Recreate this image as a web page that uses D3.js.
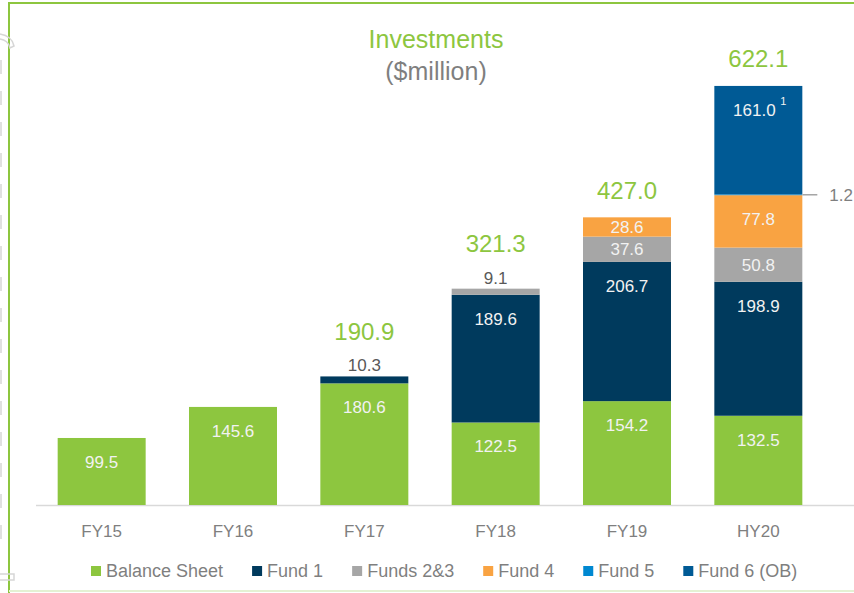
<!DOCTYPE html>
<html lang="en">
<head>
  <meta charset="UTF-8">
  <title>Investments</title>
  <script src="https://d3js.org/d3.v7.min.js"></script>
  <style>
    body { margin: 0; background: #fff; }
    svg { display: block; font-family: "Liberation Sans", Arial, sans-serif; }
  </style>
</head>
<body>
  <div id="chart"></div>
  <script>
    // data
    const periods = ["FY15", "FY16", "FY17", "FY18", "FY19", "HY20"];
    const seriesNames = ["Balance Sheet", "Fund 1", "Funds 2&3", "Fund 4", "Fund 5", "Fund 6 (OB)"];
    const seriesColors = ["#8dc63f", "#003a5d", "#a6a6a6", "#f9a342", "#0088d1", "#005a95"];
    const balanceSheet = [99.5, 145.6, 180.6, 122.5, 154.2, 132.5];
    const fund1 = [0, 0, 10.3, 189.6, 206.7, 198.9];
    const funds23 = [0, 0, 0, 9.1, 37.6, 50.8];
    const fund4 = [0, 0, 0, 0, 28.6, 77.8];
    const fund5 = [0, 0, 0, 0, 0, 1.2];
    const fund6 = [0, 0, 0, 0, 0, 161.0];
    const totals = [null, null, 190.9, 321.3, 427.0, 622.1];

    const width = 854, height = 593;
    const green = "#8dc63f", grey = "#7f7f7f";

    const svg = d3.select("#chart").append("svg")
      .attr("width", width)
      .attr("height", height);

    // frame
    svg.append("path")
      .attr("d", `M9,${height} V3 H${width}`)
      .attr("fill", "none")
      .attr("stroke", green)
      .attr("stroke-width", 2);
    svg.append("line")
      .attr("x1", 9).attr("x2", width)
      .attr("y1", 591).attr("y2", 591)
      .attr("stroke", "#e4f1d3").attr("stroke-width", 2);

    // faint decoration on the left edge
    const deco = svg.append("g").attr("stroke", "#d6d6d6").attr("fill", "none").attr("stroke-width", 1.5);
    deco.append("path").attr("d", "M0,34 Q12,36 14,46 L10,48 Q8,40 0,39");
    d3.range(60, 540, 31).forEach(y => {
      deco.append("line").attr("x1", 1).attr("x2", 1).attr("y1", y).attr("y2", y + 14);
    });
    deco.append("rect").attr("x", -2).attr("y", 574).attr("width", 16).attr("height", 6);

    // title
    svg.append("text")
      .attr("x", 436).attr("y", 48)
      .attr("text-anchor", "middle")
      .attr("fill", green)
      .style("font-size", "25px")
      .text("Investments");
    svg.append("text")
      .attr("x", 436).attr("y", 80)
      .attr("text-anchor", "middle")
      .attr("fill", grey)
      .style("font-size", "25px")
      .text("($million)");

    const x = d3.scaleBand()
      .domain(periods)
      .range([36, 824])
      .paddingInner(0.33)
      .paddingOuter(0.165);

    const y = d3.scaleLinear()
      .domain([0, 622.1])
      .range([505, 86]);

    const table = periods.map((p, i) => ({
      period: p,
      "Balance Sheet": balanceSheet[i],
      "Fund 1": fund1[i],
      "Funds 2&3": funds23[i],
      "Fund 4": fund4[i],
      "Fund 5": fund5[i],
      "Fund 6 (OB)": fund6[i]
    }));

    const stacked = d3.stack().keys(seriesNames)(table);

    // axis baseline
    svg.append("line")
      .attr("x1", 36).attr("x2", width)
      .attr("y1", y(0) + 0.5).attr("y2", y(0) + 0.5)
      .attr("stroke", "#d9d9d9").attr("stroke-width", 1.5);

    const layers = svg.selectAll(".layer")
      .data(stacked)
      .enter().append("g")
      .attr("class", "layer")
      .attr("fill", (d, i) => seriesColors[i]);

    layers.selectAll("rect")
      .data(d => d.filter(s => s[1] - s[0] > 0))
      .enter().append("rect")
      .attr("x", d => x(d.data.period))
      .attr("y", d => y(d[1]))
      .attr("width", x.bandwidth())
      .attr("height", d => y(d[0]) - y(d[1]));

    // segment labels
    const labelG = svg.append("g").style("font-size", "17px");
    const topLabelY = {};
    stacked.forEach(layer => {
      layer.forEach(seg => {
        const v = seg[1] - seg[0];
        if (v <= 0) return;
        const cx = x(seg.data.period) + x.bandwidth() / 2;
        const top = y(seg[1]), bot = y(seg[0]);
        const txt = v.toFixed(1);
        if (bot - top >= 18) {
          const cy = Math.min(top + 24, (top + bot) / 2);
          const t = labelG.append("text")
            .attr("x", cx).attr("y", cy)
            .attr("dy", "0.35em")
            .attr("text-anchor", "middle")
            .attr("fill", "#f2f2f2")
            .text(txt);
          if (layer.key === "Fund 6 (OB)") {
            t.attr("x", cx - 4);
            labelG.append("text")
              .attr("x", cx + 22).attr("y", cy - 5)
              .attr("fill", "#f2f2f2")
              .style("font-size", "11px")
              .text("1");
          }
        } else if (layer.key === "Fund 5") {
          const xr = x(seg.data.period) + x.bandwidth();
          const ym = (top + bot) / 2;
          labelG.append("line")
            .attr("x1", xr).attr("x2", xr + 15)
            .attr("y1", ym).attr("y2", ym)
            .attr("stroke", "#a6a6a6").attr("stroke-width", 1.5);
          labelG.append("text")
            .attr("x", xr + 27).attr("y", ym)
            .attr("dy", "0.35em")
            .attr("fill", grey)
            .text(txt);
        } else {
          const cy = top - 11;
          topLabelY[seg.data.period] = cy;
          labelG.append("text")
            .attr("x", cx).attr("y", cy)
            .attr("dy", "0.35em")
            .attr("text-anchor", "middle")
            .attr("fill", "#595959")
            .text(txt);
        }
      });
    });

    // totals
    periods.forEach((p, i) => {
      if (totals[i] === null) return;
      const stackTop = y(d3.sum(stacked, l => l[i][1] - l[i][0]));
      const cy = topLabelY[p] !== undefined ? topLabelY[p] - 34 : stackTop - 27;
      svg.append("text")
        .attr("x", x(p) + x.bandwidth() / 2)
        .attr("y", cy)
        .attr("dy", "0.35em")
        .attr("text-anchor", "middle")
        .attr("fill", green)
        .style("font-size", "24px")
        .text(totals[i].toFixed(1));
    });

    // x axis labels
    svg.selectAll(".xlab")
      .data(periods)
      .enter().append("text")
      .attr("class", "xlab")
      .attr("x", d => x(d) + x.bandwidth() / 2)
      .attr("y", 531)
      .attr("dy", "0.35em")
      .attr("text-anchor", "middle")
      .attr("fill", grey)
      .style("font-size", "17px")
      .text(d => d);

    // legend
    const legend = svg.append("g").attr("transform", "translate(91, 571)");
    let lx = 0;
    seriesNames.forEach((name, i) => {
      legend.append("rect")
        .attr("x", lx).attr("y", -5)
        .attr("width", 10).attr("height", 10)
        .attr("fill", seriesColors[i]);
      const t = legend.append("text")
        .attr("x", lx + 15).attr("y", 0)
        .attr("dy", "0.35em")
        .attr("fill", grey)
        .style("font-size", "18px")
        .text(name);
      lx += 15 + t.node().getComputedTextLength() + 29;
    });
  </script>
</body>
</html>
